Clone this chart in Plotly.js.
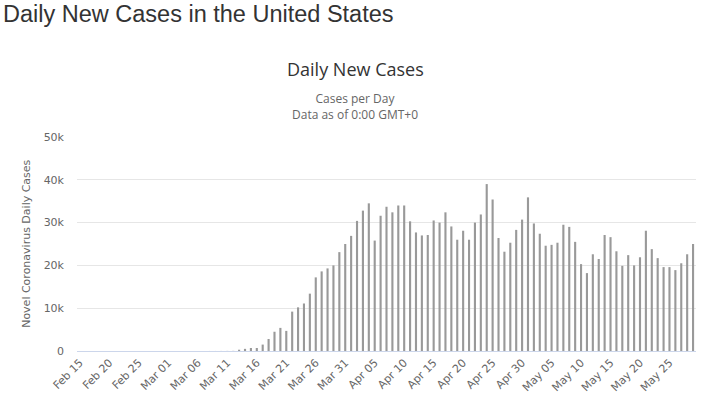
<!DOCTYPE html>
<html>
<head>
<meta charset="utf-8">
<script src="https://cdn.plot.ly/plotly-3.0.1.min.js"></script>
<style>
html,body{margin:0;padding:0;background:#fff;}
#chart{width:702px;height:405px;}
</style>
</head>
<body>
<div id="chart"></div>
<script>
// Categories: one per day, Feb 15 .. May 29
var dates = [
  "Feb 15","Feb 16","Feb 17","Feb 18","Feb 19","Feb 20","Feb 21","Feb 22","Feb 23","Feb 24",
  "Feb 25","Feb 26","Feb 27","Feb 28","Feb 29",
  "Mar 01","Mar 02","Mar 03","Mar 04","Mar 05","Mar 06","Mar 07","Mar 08","Mar 09","Mar 10",
  "Mar 11","Mar 12","Mar 13","Mar 14","Mar 15","Mar 16","Mar 17","Mar 18","Mar 19","Mar 20",
  "Mar 21","Mar 22","Mar 23","Mar 24","Mar 25","Mar 26","Mar 27","Mar 28","Mar 29","Mar 30","Mar 31",
  "Apr 01","Apr 02","Apr 03","Apr 04","Apr 05","Apr 06","Apr 07","Apr 08","Apr 09","Apr 10",
  "Apr 11","Apr 12","Apr 13","Apr 14","Apr 15","Apr 16","Apr 17","Apr 18","Apr 19","Apr 20",
  "Apr 21","Apr 22","Apr 23","Apr 24","Apr 25","Apr 26","Apr 27","Apr 28","Apr 29","Apr 30",
  "May 01","May 02","May 03","May 04","May 05","May 06","May 07","May 08","May 09","May 10",
  "May 11","May 12","May 13","May 14","May 15","May 16","May 17","May 18","May 19","May 20",
  "May 21","May 22","May 23","May 24","May 25","May 26","May 27","May 28","May 29"
];

// Daily new cases
var dailyCases = [
  0,0,0,0,0,0,0,0,0,0,
  0,0,0,0,0,
  0,0,0,0,0,5,5,10,10,15,
  20,30,300,500,700,700,1500,2800,4500,5400,
  4700,9200,10200,11100,13400,17200,18600,19300,20000,23100,25000,
  26900,30400,32800,34500,25800,31600,33700,32400,34000,34000,
  30300,27700,27000,27100,30500,30000,32400,29100,26000,28100,
  26000,30000,31900,39000,35400,26400,23200,25300,28300,30700,
  35900,29800,27400,24600,24800,25300,29500,29000,25500,20300,
  18200,22600,21500,27100,26600,23300,19900,22400,20000,21900,
  28100,23800,21700,19600,19600,18900,20500,22600,25000
];

var xTickLabels = ["Feb 15","Feb 20","Feb 25","Mar 01","Mar 06","Mar 11","Mar 16","Mar 21",
  "Mar 26","Mar 31","Apr 05","Apr 10","Apr 15","Apr 20","Apr 25","Apr 30",
  "May 05","May 10","May 15","May 20","May 25"];

var yTickVals = [0,10000,20000,30000,40000,50000];
var yTickText = ["0","10k","20k","30k","40k","50k"];

// Plot-area geometry in page pixels
var L = 77, R = 696, T = 137.3, B = 351;
function px(x){ return (x - L) / (R - L); }
function py(y){ return (B - y) / (B - T); }

var trace = {
  type: 'bar',
  x: dates,
  y: dailyCases,
  marker: {color: '#999999'},
  hoverinfo: 'skip'
};

var gray6 = '#666666';
var layout = {
  width: 702, height: 405,
  margin: {l: L, r: 702 - R, t: T, b: 405 - B, pad: 0},
  paper_bgcolor: '#ffffff', plot_bgcolor: '#ffffff',
  bargap: 0.64,
  showlegend: false,
  font: {family: 'DejaVu Sans, sans-serif', color: gray6, size: 11},
  xaxis: {
    type: 'category',
    tickmode: 'array', tickvals: xTickLabels, ticktext: xTickLabels,
    tickangle: -45,
    tickfont: {family: 'DejaVu Sans, sans-serif', size: 11, color: gray6},
    showgrid: false, zeroline: false,
    showline: true, linecolor: '#ccd6eb', linewidth: 1,
    ticks: '', fixedrange: true
  },
  yaxis: {
    range: [0, 50000],
    tickmode: 'array', tickvals: yTickVals, ticktext: yTickText,
    tickfont: {family: 'DejaVu Sans, sans-serif', size: 11, color: gray6},
    showgrid: true, gridcolor: '#e6e6e6', gridwidth: 1,
    zeroline: false, showline: false, ticks: '',
    ticklabelstandoff: 12,
    fixedrange: true
  },
  annotations: [
    {text: 'Daily New Cases in the United States', xref: 'paper', yref: 'paper',
     x: px(1), y: py(14), xanchor: 'left', yanchor: 'middle', showarrow: false,
     font: {family: 'Liberation Sans, Arial, sans-serif', size: 23.5, color: '#333333'}},
    {text: 'Daily New Cases', xref: 'paper', yref: 'paper',
     x: px(355), y: py(69), xanchor: 'center', yanchor: 'middle', showarrow: false,
     font: {family: 'Open Sans, sans-serif', size: 18, color: '#333333'}},
    {text: 'Cases per Day<br>Data as of 0:00 GMT+0', xref: 'paper', yref: 'paper',
     x: px(355), y: py(106.5), xanchor: 'center', yanchor: 'middle', showarrow: false,
     align: 'center',
     font: {family: 'Open Sans, sans-serif', size: 12, color: gray6}},
    {text: 'Novel Coronavirus Daily Cases', xref: 'paper', yref: 'paper',
     x: px(27), y: py(244), xanchor: 'center', yanchor: 'middle', showarrow: false,
     textangle: -90,
     font: {family: 'DejaVu Sans, sans-serif', size: 11, color: gray6}}
  ]
};

Plotly.newPlot('chart', [trace], layout, {displayModeBar: false, staticPlot: true});
</script>
</body>
</html>
